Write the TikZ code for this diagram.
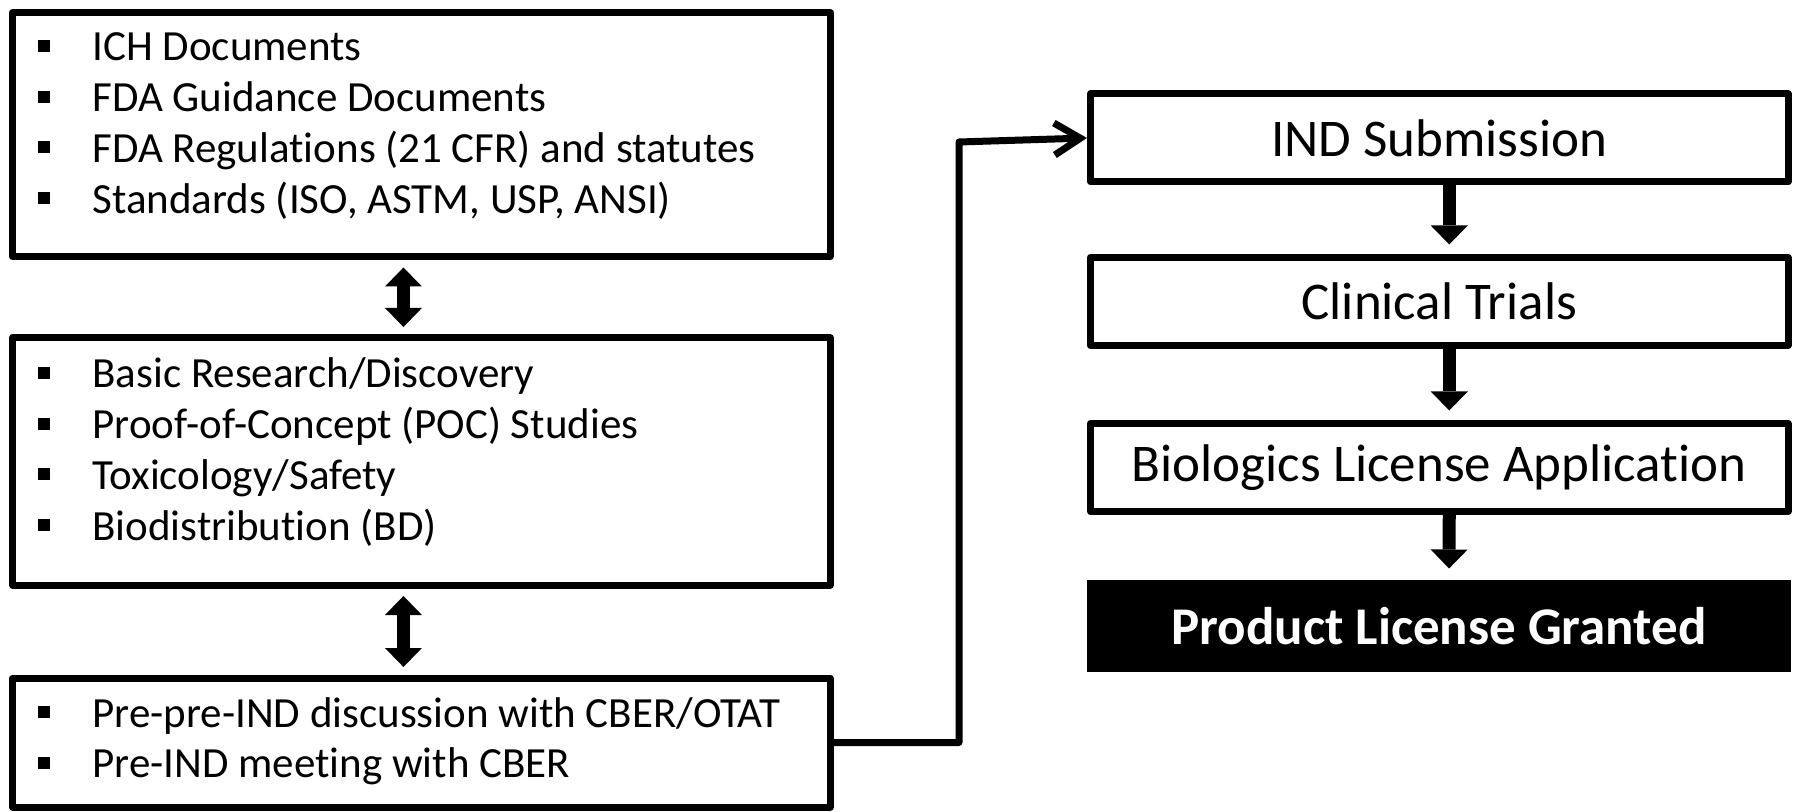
\documentclass[tikz,border=0pt]{standalone}
\usepackage{fontspec}
\setmainfont{Carlito}[Ligatures=NoCommon]
\usetikzlibrary{arrows.meta}

\newcommand{\blt}{\makebox[27.5pt][l]{\rule[4.5pt]{6pt}{6pt}}}

\begin{document}
\begin{tikzpicture}[x=0.5pt, y=-0.5pt, line width=3.5pt,
  box/.style={draw, line join=round, inner sep=0pt, minimum width=408.75pt},
  stepbox/.style={draw, line join=round, inner sep=0pt, minimum width=348.75pt,
    minimum height=44pt, font=\fontsize{26.5}{31}\selectfont},
  item/.style={anchor=base west, inner sep=0pt, font=\fontsize{21.5}{26}\selectfont},
  fat/.style={line width=6.5pt, -{Triangle[width=18.5pt, length=9.5pt, line width=0pt]}},
  fatboth/.style={line width=6.5pt,
    {Triangle[width=18.5pt, length=9.5pt, line width=0pt]}-{Triangle[width=18.5pt, length=9.5pt, line width=0pt]}},
  link/.style={line cap=round, line join=round, -{Straight Barb[length=13pt, width=16pt]}}]
  \useasboundingbox (0,0) rectangle (1794,812);

  % left column
  \node[box, minimum height=122pt] (refs) at (421.25,134.5) {};
  \node[box, minimum height=123.5pt] (work) at (421.25,461.5) {};
  \node[box, minimum height=64.5pt] (pre) at (421.25,742.5) {};

  \foreach \txt [count=\i] in {ICH Documents, FDA Guidance Documents,
      {FDA Regulations (21 CFR) and statutes}, {Standards (ISO, ASTM, USP, ANSI)}}
    \node[item] (refs-\i) at (34,{10.3+50.7*\i}) {\blt\txt};
  \foreach \txt [count=\i] in {Basic Research/Discovery, Proof-of-Concept (POC) Studies,
      Toxicology/Safety, Biodistribution (BD)}
    \node[item] (work-\i) at (34,{337.3+50.7*\i}) {\blt\txt};
  \foreach \txt [count=\i] in {Pre-pre-IND discussion with CBER/OTAT, Pre-IND meeting with CBER}
    \node[item] (pre-\i) at (34,{676.3+50.7*\i}) {\blt\txt};

  \draw[fatboth, shorten <=3.75pt, shorten >=3.75pt]
    ([xshift=-8.9pt]refs.south) -- ([xshift=-8.9pt]work.north);
  \draw[fatboth, shorten <=3.75pt, shorten >=3.75pt]
    ([xshift=-8.9pt]work.south) -- ([xshift=-8.9pt]pre.north);

  % right column
  \node[stepbox] (ind) at (1439.25,138) {IND Submission};
  \node[stepbox] (trials) at (1439.25,301.5) {Clinical Trials};
  \node[stepbox] (bla) at (1439.25,467.5) {Biologics License Application};
  \node[stepbox, draw=none, fill=black, text=white, minimum width=352pt, minimum height=46pt,
    font=\fontsize{26.5}{31}\selectfont\bfseries] (granted) at (1439,626) {Product License Granted};

  \draw[fat, shorten >=4.75pt] ([xshift=5pt]ind.south) -- ([xshift=5pt]trials.north);
  \draw[fat, shorten >=4.75pt] ([xshift=5pt]trials.south) -- ([xshift=5pt]bla.north);
  \draw[fat, shorten >=4pt] ([xshift=5pt]bla.south) -- ([xshift=5pt]granted.north);

  \coordinate (turn) at (959,142);
  \draw[link] (pre.east) -| (turn) -- (ind.west);
\end{tikzpicture}
\end{document}
